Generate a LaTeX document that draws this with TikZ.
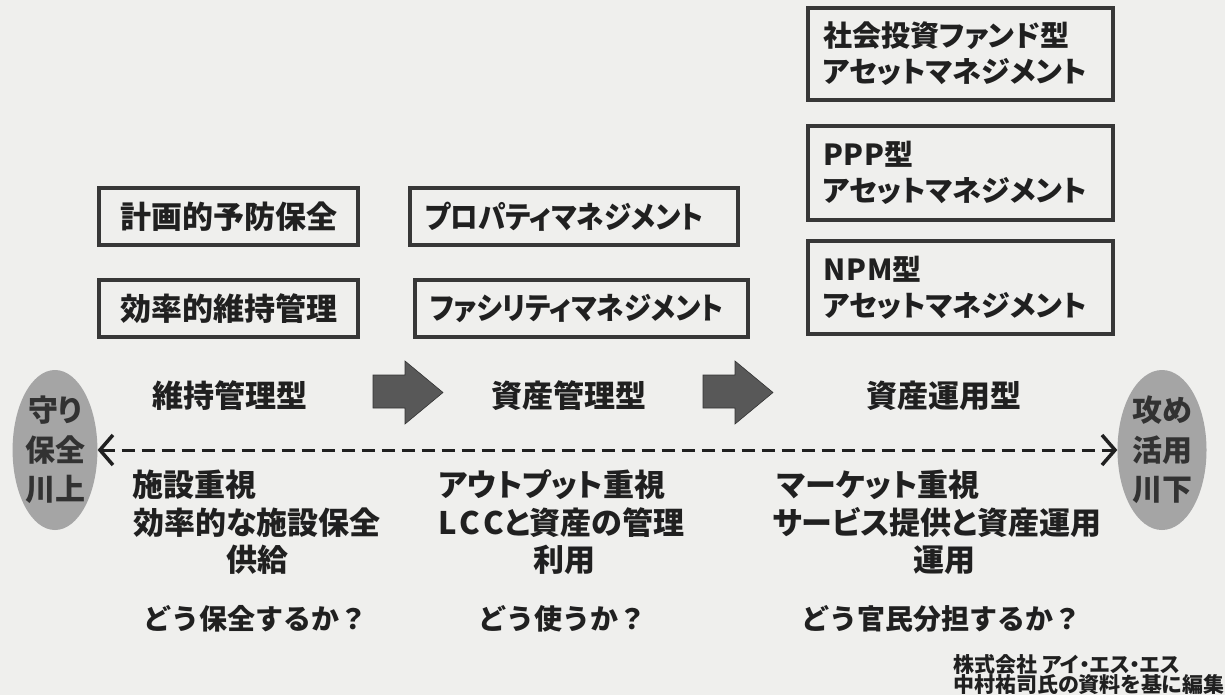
\documentclass[tikz,border=0pt]{standalone}
\usepackage{fontspec}
\setmainfont{Noto Sans CJK JP}[RawFeature={+palt}]
\newfontfamily\jpfull{Noto Sans CJK JP}
\newfontfamily\jpnarrow{Noto Sans CJK JP}[RawFeature={+palt}, FakeStretch=0.9]
\usetikzlibrary{shapes.geometric,arrows.meta}
\definecolor{bg}{RGB}{239,239,237}
\definecolor{txt}{RGB}{32,32,32}
\definecolor{bord}{RGB}{55,55,55}
\definecolor{ellg}{RGB}{165,165,165}
\definecolor{ellt}{RGB}{50,50,50}
\definecolor{arrg}{RGB}{88,88,88}
\newcommand{\fsz}[2]{\bfseries\fontsize{#1}{#2}\selectfont}
\begin{document}
\begin{tikzpicture}[x=1pt,y=-1pt,
  every node/.style={text=txt, inner sep=0pt},
  tbox/.style={draw=bord, line width=3.5pt, inner ysep=0pt, font=\fsz{31}{37}},
  pbox/.style={draw=bord, line width=3.5pt, inner xsep=15pt, inner ysep=0pt,
               align=left, minimum height=57pt, font=\jpnarrow\fsz{30.5}{36}},
  rbox/.style={draw=bord, line width=3.5pt, inner xsep=15pt, inner ysep=0pt,
               text width=275pt, minimum width=305pt, align=left, font=\fsz{29}{36}},
  lbl/.style={font=\fsz{31}{37}},
  body/.style={font=\fsz{31}{37}},
  quest/.style={font=\jpfull\fsz{28}{34}},
  foot/.style={font=\fsz{21}{24}},
  ell/.style={ellipse, fill=ellg, text=ellt, align=center, inner sep=0pt,
              minimum height=160pt, font=\fsz{30}{39.5}},
  blockarrow/.style={fill=arrg, draw=black!80, line width=0.6pt},
  dline/.style={draw=txt, line width=3pt, dash pattern=on 13pt off 7pt,
                {Straight Barb[length=13pt,width=30pt,line width=3.5pt]}-{Straight Barb[length=13pt,width=30pt,line width=3.5pt]}}
]
\fill[bg] (0,0) rectangle (1225,695);
\useasboundingbox (0,0) rectangle (1225,695);

% column 1 boxes
\node[tbox, minimum width=259pt, minimum height=57pt] (b11) at (228.5,216.5) {計画的予防保全};
\node[tbox, minimum width=259pt, minimum height=57pt] (b12) at (228.5,308.5) {効率的維持管理};

% column 2 boxes
\node[pbox, text width=298pt] (b21) at (574,216.5) {プロパティマネジメント};
\node[pbox, text width=303pt] (b22) at (581.5,308.5) {ファシリティマネジメント};

% column 3 boxes
\node[rbox, minimum height=92pt] (b31) at (960.5,54) {社会投資ファンド型\\アセットマネジメント};
\node[rbox, minimum height=94pt] (b32) at (960.5,173) {P\kern1pt P\kern1pt P型\\アセットマネジメント};
\node[rbox, minimum height=93pt] (b33) at (960.5,287.5) {N\kern1pt P\kern1pt M型\\アセットマネジメント};

% stage labels
\node[lbl] (l1) at (230,396) {維持管理型};
\node[lbl] (l2) at (569,396) {資産管理型};
\node[lbl] (l3) at (944,396) {資産運用型};

% block arrows
\fill[blockarrow] (373,375) -- (405,375) -- (405,361) -- (443,392.5) -- (405,424) -- (405,408) -- (373,408) -- cycle;
\fill[blockarrow] (703,375) -- (735,375) -- (735,361) -- (773,392.5) -- (735,424) -- (735,408) -- (703,408) -- cycle;

% end ellipses
\node[ell, minimum width=84pt] (L) at (55,450) {守り\\保全\\川上};
\node[ell, minimum width=89pt] (R) at (1162,450) {攻め\\活用\\川下};

% dashed double arrow
\draw[dline] (L.east) -- (R.west);

% descriptions
\node[body, anchor=west] (c1a) at (132,485) {施設重視};
\node[body] (c1b) at (257,523) {効率的な施設保全};
\node[body] (c1c) at (257,560) {供給};

\node[body, anchor=west] (c2a) at (438,485) {アウトプット重視};
\node[body, anchor=west] (c2b) at (438,523) {L\kern3pt C\kern3pt Cと資産の管理};
\node[body] (c2c) at (564,560) {利用};

\node[body, anchor=west] (c3a) at (777,485) {マーケット重視};
\node[body] (c3b) at (937,523) {サービス提供と資産運用};
\node[body] (c3c) at (944,560) {運用};

% questions
\node[quest] (q1) at (255,619) {どう保全するか？};
\node[quest] (q2) at (562,619) {どう使うか？};
\node[quest] (q3) at (941,619) {どう官民分担するか？};

% footnote
\node[foot, anchor=west] (f1) at (953,664) {株式会社 アイ・エス・エス};
\node[foot, anchor=west] (f2) at (953,685) {中村祐司氏の資料を基に編集};
\end{tikzpicture}
\end{document}
